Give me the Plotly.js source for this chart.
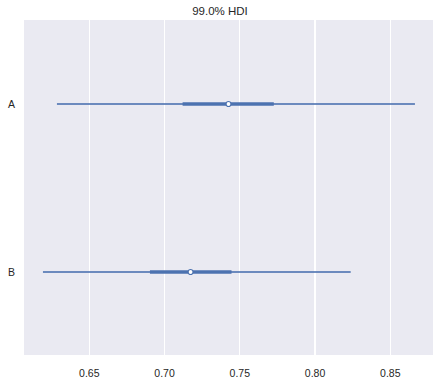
<!DOCTYPE html>
<html>
<head>
<meta charset="utf-8">
<script src="https://cdn.plot.ly/plotly-3.0.1.min.js"></script>
<style>html,body{margin:0;padding:0;background:#fff;}#chart{width:440px;height:382px;}</style>
</head>
<body>
<div id="chart"></div>
<script>
const categories = ['A', 'B'];
const yPos = [1, 0];
const medians = [0.7425, 0.7173];
const hdi99Low = [0.6285, 0.6192];
const hdi99High = [0.8664, 0.8237];
const iqrLow = [0.712, 0.6903];
const iqrHigh = [0.7726, 0.7445];
const xTicks = [0.65, 0.70, 0.75, 0.80, 0.85];
const xTickText = ['0.65', '0.70', '0.75', '0.80', '0.85'];

const color = '#4c72b0';
const traces = [];
categories.forEach((c, i) => {
  traces.push({x: [hdi99Low[i], hdi99High[i]], y: [yPos[i], yPos[i]], mode: 'lines',
    line: {color: color, width: 2}, opacity: 0.8, hoverinfo: 'skip', showlegend: false});
  traces.push({x: [iqrLow[i], iqrHigh[i]], y: [yPos[i], yPos[i]], mode: 'lines',
    line: {color: color, width: 3.5}, hoverinfo: 'skip', showlegend: false});
  traces.push({x: [medians[i]], y: [yPos[i]], mode: 'markers',
    marker: {color: '#ffffff', size: 5, line: {color: color, width: 1.2}}, showlegend: false});
});

const layout = {
  width: 440, height: 382,
  margin: {l: 24, r: 7, t: 20, b: 27},
  paper_bgcolor: '#ffffff', plot_bgcolor: '#eaeaf2',
  font: {family: 'Liberation Sans, Arial, sans-serif', size: 10.5, color: '#262626'},
  title: {text: '99.0% HDI', font: {size: 11.5, color: '#262626'}, x: 0.5, xanchor: 'center', y: 0.971, yanchor: 'middle', yref: 'container', pad: {t: 0, b: 0}, automargin: false},
  xaxis: {range: [0.6066, 0.8784], tickvals: xTicks, ticktext: xTickText, showgrid: true, gridcolor: '#ffffff', gridwidth: 1.2,
    zeroline: false, showline: false, ticks: 'outside', ticklen: 8, tickcolor: 'rgba(0,0,0,0)', tickfont: {size: 10.5, color: '#262626'}},
  yaxis: {range: [-0.494, 1.5], tickvals: yPos, ticktext: categories, showgrid: false, zeroline: false, showline: false,
    ticks: 'outside', ticklen: 6, tickcolor: 'rgba(0,0,0,0)', tickfont: {size: 10.5, color: '#262626'}}
};
Plotly.newPlot('chart', traces, layout, {displayModeBar: false, staticPlot: true});
</script>
</body>
</html>
